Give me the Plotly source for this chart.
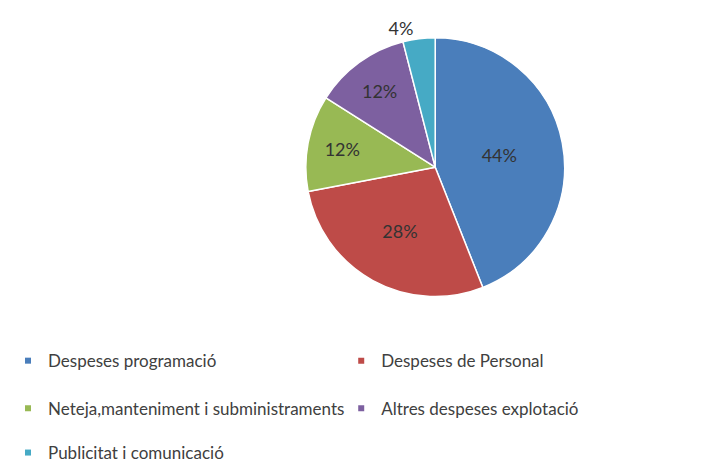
import plotly.graph_objects as go

labels = ["Despeses programació", "Despeses de Personal",
          "Neteja,manteniment i subministraments", "Altres despeses explotació",
          "Publicitat i comunicació"]
values = [44, 28, 12, 12, 4]
colors = ["#4A7EBB", "#BE4B48", "#98B954", "#7D60A0", "#46AAC5"]
text_positions = ["inside", "inside", "inside", "inside", "outside"]
legend_ids = ["legend", "legend2", "legend3", "legend4", "legend5"]

FONT = "Lato, Open Sans, sans-serif"

fig = go.Figure()
fig.add_trace(go.Pie(
    labels=labels,
    values=values,
    sort=False,
    direction="clockwise",
    rotation=0,
    marker=dict(colors=colors, line=dict(color="white", width=1.5)),
    texttemplate="%{percent:.0%}",
    textposition=text_positions,
    insidetextorientation="horizontal",
    textfont=dict(family=FONT, size=18, color="#333333"),
    domain=dict(x=[0.41, 0.79], y=[0.37, 0.935]),
    showlegend=False,
))

# legend entries (one per category), arranged in two columns / three rows
for lab, col, lg in zip(labels, colors, legend_ids):
    fig.add_trace(go.Scatter(
        x=[None], y=[None], mode="markers", name=lab,
        marker=dict(symbol="square", size=6, color=col),
        legend=lg, showlegend=True, hoverinfo="skip",
    ))

fig.update_xaxes(visible=False)
fig.update_yaxes(visible=False)

leg_common = dict(
    orientation="v", xanchor="left", yanchor="middle",
    font=dict(family=FONT, size=17, color="#404040"),
    bgcolor="rgba(0,0,0,0)",
)
col_x = [0.0, 0.468]
row_y = [0.229, 0.125, 0.028]

fig.update_layout(
    width=712, height=463,
    margin=dict(l=0, r=0, t=0, b=0),
    paper_bgcolor="white", plot_bgcolor="white",
    font=dict(family=FONT, size=17, color="#404040"),
    legend=dict(x=col_x[0], y=row_y[0], **leg_common),
    legend2=dict(x=col_x[1], y=row_y[0], **leg_common),
    legend3=dict(x=col_x[0], y=row_y[1], **leg_common),
    legend4=dict(x=col_x[1], y=row_y[1], **leg_common),
    legend5=dict(x=col_x[0], y=row_y[2], **leg_common),
)

fig.write_html("out.html")
